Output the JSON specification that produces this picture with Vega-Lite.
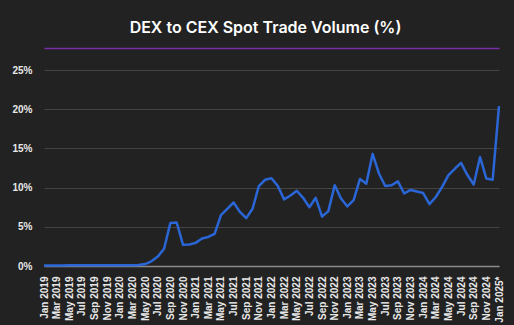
{
  "$schema": "https://vega.github.io/schema/vega-lite/v6.json",
  "autosize": {"type": "none"},
  "width": 455,
  "height": 196,
  "padding": {"left": 44, "top": 70, "right": 15, "bottom": 59},
  "background": "#222222",
  "title": {
    "text": "DEX to CEX Spot Trade Volume (%)",
    "color": "#ffffff",
    "font": "Inter",
    "fontSize": 16,
    "fontWeight": 600,
    "anchor": "middle",
    "dx": -6,
    "offset": 12
  },
  "config": {
    "view": {"stroke": null},
    "axis": {"labelFont": "Liberation Sans", "labelFontSize": 10, "labelFontWeight": "bold", "labelColor": "#e8e8e8"}
  },
  "data": {
    "values": [
      {"month": "Jan 2019", "value": 0.05}, {"month": "Feb 2019", "value": 0.05}, {"month": "Mar 2019", "value": 0.06}, {"month": "Apr 2019", "value": 0.07},
      {"month": "May 2019", "value": 0.08}, {"month": "Jun 2019", "value": 0.08}, {"month": "Jul 2019", "value": 0.09}, {"month": "Aug 2019", "value": 0.09},
      {"month": "Sep 2019", "value": 0.09}, {"month": "Oct 2019", "value": 0.08}, {"month": "Nov 2019", "value": 0.08}, {"month": "Dec 2019", "value": 0.08},
      {"month": "Jan 2020", "value": 0.08}, {"month": "Feb 2020", "value": 0.10}, {"month": "Mar 2020", "value": 0.10}, {"month": "Apr 2020", "value": 0.12},
      {"month": "May 2020", "value": 0.25}, {"month": "Jun 2020", "value": 0.6}, {"month": "Jul 2020", "value": 1.2}, {"month": "Aug 2020", "value": 2.2},
      {"month": "Sep 2020", "value": 5.5}, {"month": "Oct 2020", "value": 5.55}, {"month": "Nov 2020", "value": 2.7}, {"month": "Dec 2020", "value": 2.75},
      {"month": "Jan 2021", "value": 2.95}, {"month": "Feb 2021", "value": 3.5}, {"month": "Mar 2021", "value": 3.7}, {"month": "Apr 2021", "value": 4.1},
      {"month": "May 2021", "value": 6.5}, {"month": "Jun 2021", "value": 7.3}, {"month": "Jul 2021", "value": 8.1}, {"month": "Aug 2021", "value": 6.9},
      {"month": "Sep 2021", "value": 6.1}, {"month": "Oct 2021", "value": 7.3}, {"month": "Nov 2021", "value": 10.2}, {"month": "Dec 2021", "value": 11.0},
      {"month": "Jan 2022", "value": 11.2}, {"month": "Feb 2022", "value": 10.2}, {"month": "Mar 2022", "value": 8.5}, {"month": "Apr 2022", "value": 9.0},
      {"month": "May 2022", "value": 9.6}, {"month": "Jun 2022", "value": 8.7}, {"month": "Jul 2022", "value": 7.5}, {"month": "Aug 2022", "value": 8.7},
      {"month": "Sep 2022", "value": 6.3}, {"month": "Oct 2022", "value": 7.0}, {"month": "Nov 2022", "value": 10.3}, {"month": "Dec 2022", "value": 8.6},
      {"month": "Jan 2023", "value": 7.6}, {"month": "Feb 2023", "value": 8.4}, {"month": "Mar 2023", "value": 11.1}, {"month": "Apr 2023", "value": 10.5},
      {"month": "May 2023", "value": 14.3}, {"month": "Jun 2023", "value": 11.8}, {"month": "Jul 2023", "value": 10.2}, {"month": "Aug 2023", "value": 10.3},
      {"month": "Sep 2023", "value": 10.8}, {"month": "Oct 2023", "value": 9.25}, {"month": "Nov 2023", "value": 9.7}, {"month": "Dec 2023", "value": 9.5},
      {"month": "Jan 2024", "value": 9.3}, {"month": "Feb 2024", "value": 7.9}, {"month": "Mar 2024", "value": 8.8}, {"month": "Apr 2024", "value": 10.1},
      {"month": "May 2024", "value": 11.6}, {"month": "Jun 2024", "value": 12.4}, {"month": "Jul 2024", "value": 13.15}, {"month": "Aug 2024", "value": 11.6},
      {"month": "Sep 2024", "value": 10.4}, {"month": "Oct 2024", "value": 13.9}, {"month": "Nov 2024", "value": 11.15}, {"month": "Dec 2024", "value": 11.0},
      {"month": "Jan 2025*", "value": 20.4}
    ]
  },
  "layer": [
    {
      "mark": {"type": "line", "color": "#2b66d6", "strokeWidth": 2.5, "strokeJoin": "round"},
      "encoding": {
        "x": {
          "field": "month", "type": "ordinal", "sort": null,
          "scale": {"type": "point", "padding": 0},
          "axis": {
            "title": null, "ticks": false, "grid": false,
            "labelAngle": -90, "labelPadding": 10,
            "domainColor": "#8a8a8a", "domainWidth": 1.5,
            "values": ["Jan 2019","Mar 2019","May 2019","Jul 2019","Sep 2019","Nov 2019","Jan 2020","Mar 2020","May 2020","Jul 2020","Sep 2020","Nov 2020","Jan 2021","Mar 2021","May 2021","Jul 2021","Sep 2021","Nov 2021","Jan 2022","Mar 2022","May 2022","Jul 2022","Sep 2022","Nov 2022","Jan 2023","Mar 2023","May 2023","Jul 2023","Sep 2023","Nov 2023","Jan 2024","Mar 2024","May 2024","Jul 2024","Sep 2024","Nov 2024","Jan 2025*"]
          }
        },
        "y": {
          "field": "value", "type": "quantitative",
          "scale": {"domain": [0, 25], "nice": false},
          "axis": {
            "title": null, "ticks": false, "domain": false,
            "values": [0, 5, 10, 15, 20, 25],
            "labelExpr": "datum.value + '%'",
            "labelPadding": 12,
            "gridColor": "#444444", "gridWidth": 1
          }
        }
      }
    },
    {
      "mark": {"type": "line", "strokeOpacity": 0},
      "encoding": {
        "x": {
          "field": "month", "type": "ordinal", "sort": null,
          "scale": {"type": "point", "padding": 0},
          "axis": {"orient": "top", "title": null, "labels": false, "ticks": false, "grid": false, "domainColor": "#7a2fa8", "domainWidth": 1.5, "offset": 22}
        }
      }
    }
  ],
  "resolve": {"axis": {"x": "independent"}}
}
